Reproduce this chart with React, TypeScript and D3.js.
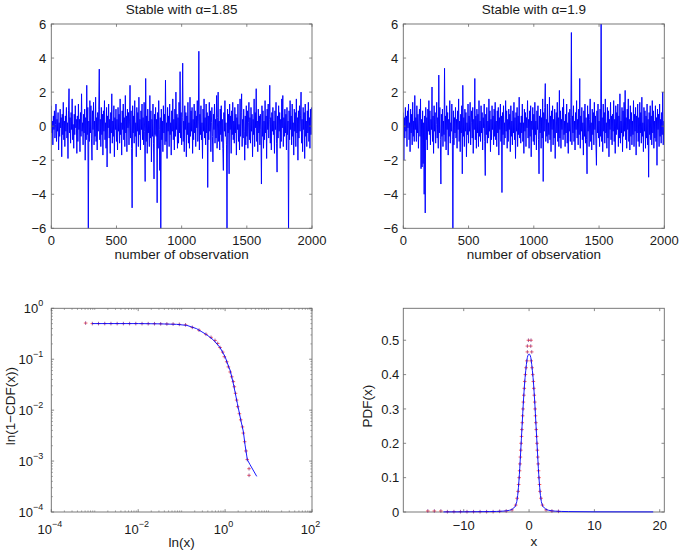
import React from 'react';
import * as d3 from 'd3';

const W = 681;
const H = 555;
const FONT = '"Liberation Sans", Arial, Helvetica, sans-serif';
const TEXT = '#1a1a1a';
const AXIS = '#6b6b6b';
const LINE = '#0000ff';
const MARK = '#ff1a1a';

// ---------- top panels: stable series ----------
const titles = ['Stable with α=1.85', 'Stable with α=1.9'];
const obsTicks = [0, 500, 1000, 1500, 2000];
const seriesTicks = [-6, -4, -2, 0, 2, 4, 6];
const obsStep = 4; // one stored value per 4 observations

const seriesA = [
  1.2,-0.4,0.3,-1.1,0.6,-0.2,0.9,-0.7,0.1,1.3,-0.9,0.4,-0.3,0.8,-1.4,0.2,-0.6,1.0,-0.1,0.5,-1.8,0.7,-0.5,1.4,-0.8,
  0.3,-1.2,0.6,-0.3,1.1,-0.7,0.2,-1.9,0.9,2.2,-0.4,0.5,-1.0,0.8,-0.2,1.6,-0.8,0.1,-1.3,0.7,-0.5,1.2,-0.1,0.4,-1.6,
  0.6,-0.9,1.3,-0.2,0.4,-1.5,0.8,-0.6,1.9,-0.3,0.2,-1.1,0.7,-0.4,1.0,-2.0,0.5,-0.8,2.4,-0.5,1.1,-6.5,0.3,-0.9,1.5,
  -0.4,1.2,-0.7,-2.0,0.9,-0.2,1.4,-1.1,0.3,-0.6,1.7,-0.9,0.5,-1.4,0.8,-0.3,1.0,3.35,-0.8,0.4,-1.2,1.1,-0.5,0.7,-1.7,
  0.9,-0.3,1.5,-0.8,0.2,-1.3,1.1,-2.4,0.6,-0.1,1.3,-0.7,0.4,-1.6,0.8,-0.4,1.9,-1.0,0.3,-0.6,1.2,-1.8,0.5,-0.2,1.0,
  -0.9,0.4,-1.4,1.1,-0.3,0.7,-1.0,1.6,-0.5,0.2,-1.7,0.9,-0.2,1.3,-0.8,0.5,-1.2,1.8,-0.4,0.6,-1.5,1.0,-0.1,0.8,-1.1,
  0.3,2.4,-0.7,0.9,-1.3,-4.8,1.2,-0.4,0.6,-1.0,1.5,-0.6,0.2,-1.8,1.1,-0.3,0.8,-1.2,1.7,-0.5,0.4,-1.4,0.9,-0.2,1.3,
  -0.8,0.5,-1.1,1.4,-0.3,-3.25,2.8,-0.9,0.6,-1.6,1.0,-0.4,0.3,-1.2,1.8,-0.7,0.9,-2.1,0.4,-0.6,1.3,-1.0,-3.1,0.7,-0.5,
  1.1,-0.6,0.4,-4.5,0.8,-1.3,1.5,-0.2,-2.6,0.5,-6.5,1.0,-0.8,0.3,-1.5,1.2,-0.4,0.7,-1.1,2.7,-0.9,0.2,-1.9,1.1,-0.3,
  0.6,-1.2,1.3,-0.5,0.2,-1.7,0.9,-0.3,1.6,-0.8,0.4,-1.4,1.0,-0.6,2.0,-0.2,0.7,-1.3,0.5,-1.0,1.4,-0.4,3.2,-0.7,0.8,
  -1.1,0.5,3.7,-0.9,0.3,-1.5,1.2,-0.2,0.8,-1.8,0.6,-0.5,1.4,-1.0,0.2,-1.3,1.7,-0.6,0.9,-0.3,1.1,-1.6,0.4,-0.8,1.3,
  -0.4,0.9,-1.2,0.6,-0.1,1.5,-0.9,0.3,4.4,-1.4,0.7,-0.5,1.2,-0.8,0.2,-1.9,1.0,-0.3,1.6,-0.7,0.5,-1.1,1.3,-0.4,0.8,
  -3.6,0.6,-0.8,1.4,-0.3,0.9,-1.5,0.2,1.1,-0.6,-2.1,0.7,-0.2,1.3,-1.0,0.4,-0.7,1.8,-1.3,0.5,2.0,-0.9,0.3,-1.4,1.0,
  -0.5,1.2,-0.9,0.4,-1.3,-2.6,0.8,-0.3,1.5,-0.6,0.2,-1.1,-6.5,1.0,-0.4,0.7,-2.8,1.3,-0.2,0.6,-1.6,0.9,-0.5,1.4,-0.8,
  0.3,-1.0,1.1,-0.4,0.7,-1.7,0.5,-0.2,1.3,-0.9,0.1,-1.4,1.6,-0.6,0.8,1.9,-1.2,0.4,-0.7,1.0,-0.3,-2.0,0.6,-1.1,1.2,
  -0.6,0.9,-1.3,0.2,1.4,-0.8,0.5,-1.0,1.1,-0.3,0.7,-1.8,0.4,-0.5,1.6,-1.2,0.8,-0.1,2.2,-0.9,0.3,-1.5,1.0,-0.4,0.6,
  -1.1,0.7,-0.2,-3.4,1.2,-0.6,0.9,-1.3,0.3,-0.8,1.5,-0.4,0.6,-1.9,1.0,-0.2,1.3,-0.7,0.4,2.4,-1.0,0.5,-1.4,0.8,-0.3,
  1.1,-0.5,0.3,-1.6,0.9,-0.2,1.4,-1.0,-2.7,0.6,-0.7,1.2,-0.3,0.8,-1.3,0.4,-0.9,1.6,-0.1,1.8,-1.2,0.5,-0.6,1.0,-0.4,
  0.7,-1.4,1.1,-0.5,0.3,-6.5,0.9,-0.8,1.5,-0.2,0.6,-1.1,1.3,-0.6,0.2,-1.7,1.0,-0.3,0.8,-1.2,1.6,-0.4,0.5,-2.0,0.9,
  -0.7,1.2,-0.3,0.6,2.0,-1.0,0.4,-1.5,1.1,-0.2,0.8,-1.9,1.3,-0.6,0.3,-1.2,0.9,-0.4,1.4,-0.9,0.5,-1.3,1.0,-0.5,1.1,
];

const seriesB = [
  0.8,-2.0,0.5,-0.7,1.1,-0.3,0.6,-1.2,0.9,-0.1,1.3,-0.8,0.2,-1.5,1.0,-0.4,0.7,-1.1,1.4,-0.6,0.3,-0.9,1.8,-0.2,0.5,
  -0.9,1.2,-0.4,0.7,-1.3,0.3,1.0,-0.6,1.6,-2.5,0.4,-2.4,0.9,-2.2,0.2,-4.0,0.6,-5.1,1.1,-0.8,0.5,-1.4,1.0,-0.3,1.5,
  -0.5,0.9,-1.1,0.4,-0.2,2.3,-0.9,0.6,-1.6,1.2,-0.3,0.8,-1.0,0.1,1.4,-0.7,0.5,-1.3,3.0,-0.4,1.1,-0.8,-3.4,0.7,-0.6,
  1.0,-1.2,0.3,-0.5,3.4,-0.9,0.6,-1.4,1.2,-0.2,0.8,-1.7,0.4,-0.6,1.5,-1.0,0.2,-0.3,1.3,-0.8,-6.5,0.9,-1.1,0.5,-0.4,
  1.1,-0.7,0.4,-1.3,0.9,-0.2,1.6,-0.9,0.3,-1.5,0.7,-0.4,1.2,-2.8,2.4,-0.6,0.5,-1.2,1.0,-0.3,0.8,-1.8,0.2,-0.5,1.3,
  -1.0,0.6,-0.3,1.4,-1.1,0.2,0.9,-0.7,1.1,-1.6,0.4,-0.2,2.8,-0.8,0.6,-1.3,1.0,-0.4,0.7,-1.2,1.5,-0.6,0.3,-0.9,1.2,
  -0.4,0.8,-1.4,0.5,-0.1,1.3,-0.9,-2.9,0.7,-0.5,1.1,-1.0,0.3,-0.7,1.6,-0.3,0.9,-1.5,0.4,-0.8,1.2,-0.2,0.6,-1.1,1.0,
  -0.6,1.4,-0.8,0.3,-1.2,0.9,-0.4,1.1,-1.7,0.5,-0.2,1.3,-0.9,0.6,-3.9,0.8,-0.5,1.2,-1.1,0.2,-0.7,1.5,-0.3,0.9,-1.3,
  0.4,-0.9,1.0,-0.2,0.7,-1.5,1.2,-0.6,0.3,-1.1,0.9,-0.4,1.4,-0.8,0.5,-1.9,0.8,-0.3,1.1,-1.2,0.6,-0.5,1.7,-0.7,0.2,
  -1.0,0.6,-0.4,1.3,-0.9,0.2,-1.6,1.0,-0.3,0.8,-1.2,0.5,-0.1,1.5,-0.7,0.4,-1.3,0.9,-0.6,1.2,-1.8,0.3,-0.2,1.1,-0.9,
  0.7,-1.1,1.4,-0.5,0.3,-1.4,0.9,-0.2,1.2,-0.8,-2.8,0.6,-0.4,1.0,-1.3,0.5,-0.7,1.6,-3.25,0.8,-0.3,1.1,2.5,-0.9,0.4,
  -0.6,1.3,-1.0,0.2,-0.5,1.7,-0.8,0.6,-1.5,0.9,-0.2,1.2,-1.1,0.4,-0.7,1.0,-1.9,0.3,0.8,-0.4,1.4,-0.9,0.5,-1.2,2.1,
  -0.7,0.9,-1.3,0.4,-0.2,1.1,-0.8,1.6,-0.5,0.3,-1.2,0.7,-0.4,1.3,-1.0,0.2,-1.6,0.8,-0.3,1.0,-0.9,0.5,5.5,-1.1,0.6,
  -0.4,1.2,-0.9,0.3,-1.4,0.8,-0.2,1.5,-0.7,0.4,-1.1,1.0,-0.5,2.8,-1.3,0.6,-0.3,1.1,-0.8,0.2,-1.7,0.9,-0.6,1.3,-1.0,
  0.5,-0.8,-2.8,1.2,-0.3,0.7,-1.2,0.4,1.6,-0.9,0.2,-1.4,1.0,-0.5,0.8,-1.1,1.4,-0.2,0.6,-1.0,-2.3,0.9,-0.4,1.3,-0.7,
  0.3,-1.2,1.0,-0.6,6.5,-0.9,0.5,-1.5,1.3,-0.3,0.8,-1.0,1.6,-0.4,0.2,-1.3,1.1,-0.7,0.9,-1.8,0.4,-0.2,1.4,-0.8,0.6,
  -1.1,0.7,-0.3,1.5,-0.9,0.4,-1.6,1.2,-0.5,0.8,-0.2,1.3,-1.2,0.6,-0.7,1.9,-1.0,0.3,-0.4,1.1,-1.5,0.9,-0.6,1.4,-0.3,
  2.1,-0.8,0.5,-1.3,1.0,-0.2,1.6,-0.9,0.4,-1.4,1.2,-0.6,0.8,-1.1,0.3,-0.5,1.5,-1.2,0.7,-0.3,1.1,-1.7,0.6,-0.4,1.3,
  -0.9,0.5,-1.2,1.4,-0.4,0.8,-1.0,1.7,-0.6,0.2,-1.5,1.1,-0.3,0.9,-1.3,0.6,-0.7,1.3,-1.1,0.4,-3.0,0.8,-0.5,1.2,-0.8,
  0.6,-1.1,1.5,-0.4,0.9,-1.3,0.3,-0.7,1.2,-0.9,0.5,-2.3,1.0,-0.2,0.7,-1.2,1.3,-0.6,0.4,-1.0,0.8,-0.5,2.0,-1.1,0.3,
];

// ---------- bottom-left: tail (1-CDF) on log-log ----------
const cdfLineX = [8.71e-4, 0.01, 0.0316, 0.0767, 0.132, 0.221, 0.378, 0.536, 0.764, 1.0, 1.189, 1.309, 1.549, 1.914, 2.291, 2.63, 2.877, 3.251, 3.75, 5.346];
const cdfLineY = [0.501, 0.501, 0.495, 0.484, 0.462, 0.398, 0.302, 0.24, 0.17, 0.112, 0.0741, 0.0603, 0.0331, 0.0136, 0.00646, 0.0038, 0.00209, 0.00106, 0.000851, 0.000501];
const cdfMarkX = [6.17e-4, 8.79e-4, 1.22e-3, 1.70e-3, 2.36e-3, 3.28e-3, 4.56e-3, 6.34e-3, 8.81e-3, 1.225e-2, 1.70e-2, 2.37e-2, 3.29e-2, 4.57e-2, 6.35e-2, 8.83e-2, 0.123, 0.176, 0.251, 0.363, 0.474, 0.586, 0.676, 0.764, 0.881, 0.962, 1.089, 1.189, 1.309, 1.422, 1.549, 1.633, 1.738, 1.841, 1.95, 2.138, 2.291, 2.512, 2.63, 2.818, 3.02, 3.236, 3.556, 3.556];
const cdfMarkY = [0.513, 0.501, 0.501, 0.501, 0.501, 0.501, 0.501, 0.501, 0.501, 0.5, 0.499, 0.498, 0.495, 0.493, 0.49, 0.484, 0.473, 0.422, 0.372, 0.309, 0.269, 0.234, 0.204, 0.17, 0.138, 0.112, 0.0891, 0.0708, 0.0562, 0.0452, 0.0363, 0.0288, 0.0214, 0.0158, 0.0117, 0.00851, 0.00646, 0.00468, 0.00355, 0.0024, 0.00158, 0.00107, 0.000708, 0.000525];
const cdfXTicks = [1e-4, 1e-2, 1e0, 1e2];
const cdfXExp = ['−4', '−2', '0', '2'];
const cdfYTicks = [1e-4, 1e-3, 1e-2, 1e-1, 1e0];
const cdfYExp = ['−4', '−3', '−2', '−1', '0'];

// ---------- bottom-right: PDF ----------
const pdfLineX = [-13.1, -10, -6, -4, -3, -2.5, -2.2, -1.94, -1.68, -1.48, -1.27, -1.07, -0.87, -0.66, -0.46, -0.26, 0, 0.26, 0.46, 0.66, 0.87, 1.07, 1.27, 1.48, 1.68, 1.94, 2.2, 2.5, 3, 4, 6, 10, 19];
const pdfLineY = [0.0003, 0.0005, 0.0012, 0.0025, 0.005, 0.009, 0.015, 0.025, 0.06, 0.11, 0.18, 0.25, 0.32, 0.38, 0.42, 0.45, 0.46, 0.45, 0.42, 0.38, 0.32, 0.25, 0.18, 0.11, 0.06, 0.025, 0.015, 0.009, 0.005, 0.0025, 0.0012, 0.0005, 0.0003];
const pdfMarkX = [
  -15.5, -14.5, -13.5, -12.5, -11.5, -10.5, -9.5, -8.5, -7.5, -6.5, -5.5, -4.5, -3.5, -2.6,
  -2.05, -1.83, -1.68, -1.6, -1.52, -1.45, -1.39, -1.33, -1.27, -1.213, -1.156, -1.099, -1.041, -0.984, -0.927, -0.87, -0.8, -0.73, -0.66, -0.56, -0.46, -0.327,
  0.327, 0.46, 0.56, 0.66, 0.73, 0.8, 0.87, 0.927, 0.984, 1.041, 1.099, 1.156, 1.213, 1.27, 1.33, 1.39, 1.45, 1.52, 1.6, 1.68, 1.83, 2.05,
  2.6, 3.5, 4.5,
  -0.1, 0.3, -0.26, 0.26, -0.26, 0.41,
];
const pdfMarkY = [
  0.003, 0.003, 0.003, 0.001, 0.001, 0.001, 0.001, 0.001, 0.001, 0.001, 0.001, 0.002, 0.003, 0.006,
  0.02, 0.04, 0.06, 0.08, 0.1, 0.12, 0.14, 0.16, 0.18, 0.2, 0.22, 0.24, 0.26, 0.28, 0.3, 0.32, 0.34, 0.36, 0.38, 0.4, 0.42, 0.44,
  0.44, 0.42, 0.4, 0.38, 0.36, 0.34, 0.32, 0.3, 0.28, 0.26, 0.24, 0.22, 0.2, 0.18, 0.16, 0.14, 0.12, 0.1, 0.08, 0.06, 0.04, 0.02,
  0.006, 0.003, 0.002,
  0.5, 0.5, 0.483, 0.483, 0.466, 0.466,
];
const pdfXTicks = [-10, 0, 10, 20];
const pdfYTicks = [0, 0.1, 0.2, 0.3, 0.4, 0.5];

// ---------- layout ----------
const COLS = [{ l: 51.3, r: 312 }, { l: 403.3, r: 664.3 }];
const ROWS = [{ t: 24, b: 228.3 }, { t: 308.3, b: 512 }];
const TICK = 2.8;

type Box = { l: number; r: number; t: number; b: number };

function Frame({ box, xt, yt, xMinor = [], yMinor = [] }: { box: Box; xt: number[]; yt: number[]; xMinor?: number[]; yMinor?: number[] }) {
  const p: string[] = [];
  xt.forEach((x) => { p.push(`M${x},${box.b}V${box.b - TICK}M${x},${box.t}V${box.t + TICK}`); });
  yt.forEach((y) => { p.push(`M${box.l},${y}H${box.l + TICK}M${box.r},${y}H${box.r - TICK}`); });
  const m: string[] = [];
  xMinor.forEach((x) => { m.push(`M${x},${box.b}V${box.b - 1.6}M${x},${box.t}V${box.t + 1.6}`); });
  yMinor.forEach((y) => { m.push(`M${box.l},${y}H${box.l + 1.6}M${box.r},${y}H${box.r - 1.6}`); });
  return (
    <g>
      <path d={m.join('')} stroke={AXIS} strokeWidth={0.6} fill="none" />
      <path d={p.join('')} stroke={AXIS} strokeWidth={0.8} fill="none" />
      <rect x={box.l} y={box.t} width={box.r - box.l} height={box.b - box.t} fill="none" stroke={AXIS} strokeWidth={0.9} />
    </g>
  );
}

function Plus({ x, y }: { x: number; y: number }) {
  const a = 1.8;
  return (
    <g>
      <path d={`M${x - a},${y}H${x + a}`} stroke={MARK} strokeWidth={0.7} />
      <path d={`M${x},${y - a}V${y + a}`} stroke="#7a1f7a" strokeWidth={0.7} />
    </g>
  );
}

function SeriesPanel({ idx, data }: { idx: number; data: number[] }) {
  const box = { ...COLS[idx], ...ROWS[0] };
  const x = d3.scaleLinear().domain([0, 2000]).range([box.l, box.r]);
  const y = d3.scaleLinear().domain([-6, 6]).range([box.b, box.t]);
  const path = d3.line<number>().x((_, i) => x(i * obsStep)).y((v) => y(v))(data) || '';
  const cx = (box.l + box.r) / 2;
  const clipId = `clip-top-${idx}`;
  return (
    <g>
      <clipPath id={clipId}><rect x={box.l} y={box.t} width={box.r - box.l} height={box.b - box.t} /></clipPath>
      <path d={path} clipPath={`url(#${clipId})`} fill="none" stroke={LINE} strokeWidth={0.95} strokeLinejoin="miter" />
      <Frame box={box} xt={obsTicks.map(x)} yt={seriesTicks.map(y)} />
      {obsTicks.map((t) => (
        <text key={t} x={x(t)} y={box.b + 17} textAnchor="middle" fontSize={13} fill={TEXT}>{t}</text>
      ))}
      {seriesTicks.map((t) => (
        <text key={t} x={box.l - 5} y={y(t) + 4.6} textAnchor="end" fontSize={13} fill={TEXT}>{t < 0 ? `−${-t}` : t}</text>
      ))}
      <text x={cx} y={13.5} textAnchor="middle" fontSize={13.5} fill={TEXT}>{titles[idx]}</text>
      <text x={cx} y={box.b + 30.5} textAnchor="middle" fontSize={13.5} fill={TEXT}>number of observation</text>
    </g>
  );
}

function CdfPanel() {
  const box = { ...COLS[0], ...ROWS[1] };
  const x = d3.scaleLog().domain([1e-4, 1e2]).range([box.l, box.r]);
  const y = d3.scaleLog().domain([1e-4, 1e0]).range([box.b, box.t]);
  const xMinor = x.ticks().filter((t) => !cdfXTicks.some((m) => Math.abs(m - t) / m < 1e-6));
  const yMinor = y.ticks().filter((t) => !cdfYTicks.some((m) => Math.abs(m - t) / m < 1e-6));
  const linePath = d3.line<number>().x((v) => x(v)).y((_, i) => y(cdfLineY[i]))(cdfLineX) || '';
  const cx = (box.l + box.r) / 2;
  return (
    <g>
      <Frame box={box} xt={cdfXTicks.map(x)} yt={cdfYTicks.map(y)} xMinor={xMinor.map(x)} yMinor={yMinor.map(y)} />
      {cdfMarkX.map((v, i) => <Plus key={i} x={x(v)} y={y(cdfMarkY[i])} />)}
      <path d={linePath} fill="none" stroke={LINE} strokeWidth={0.9} />
      {cdfXTicks.map((t, i) => (
        <text key={t} x={x(t) - 1.5} y={box.b + 22} textAnchor="middle" fontSize={13} fill={TEXT}>
          <tspan>10</tspan><tspan fontSize={9} dy={-7}>{cdfXExp[i]}</tspan>
        </text>
      ))}
      {cdfYTicks.map((t, i) => (
        <text key={t} x={box.l - 8} y={y(t) + 5} textAnchor="end" fontSize={13} fill={TEXT}>
          <tspan>10</tspan><tspan fontSize={9} dy={-7}>{cdfYExp[i]}</tspan>
        </text>
      ))}
      <text x={cx} y={546.5} textAnchor="middle" fontSize={13.5} fill={TEXT}>ln(x)</text>
      <text transform={`translate(15,${(box.t + box.b) / 2 - 4}) rotate(-90)`} textAnchor="middle" fontSize={13.5} fill={TEXT}>ln(1−CDF(x))</text>
    </g>
  );
}

function PdfPanel() {
  const box = { ...COLS[1], ...ROWS[1] };
  const x = d3.scaleLinear().domain([-19.25, 20.7]).range([box.l, box.r]);
  const y = d3.scaleLinear().domain([0, 0.593]).range([box.b, box.t]);
  const linePath = d3.line<number>().x((v) => x(v)).y((_, i) => y(pdfLineY[i])).curve(d3.curveMonotoneX)(pdfLineX) || '';
  const cx = (box.l + box.r) / 2;
  return (
    <g>
      <Frame box={box} xt={pdfXTicks.map(x)} yt={pdfYTicks.map(y)} />
      {pdfMarkX.map((v, i) => <Plus key={i} x={x(v)} y={y(pdfMarkY[i])} />)}
      <path d={linePath} fill="none" stroke={LINE} strokeWidth={0.9} />
      {pdfXTicks.map((t) => (
        <text key={t} x={x(t)} y={box.b + 17.5} textAnchor="middle" fontSize={13} fill={TEXT}>{t < 0 ? `−${-t}` : t}</text>
      ))}
      {pdfYTicks.map((t) => (
        <text key={t} x={box.l - 4} y={y(t) + 4.6} textAnchor="end" fontSize={13} fill={TEXT}>{t === 0 ? '0' : t.toFixed(1)}</text>
      ))}
      <text x={cx} y={545.5} textAnchor="middle" fontSize={13.5} fill={TEXT}>x</text>
      <text transform={`translate(372,${(box.t + box.b) / 2 - 4}) rotate(-90)`} textAnchor="middle" fontSize={13.5} fill={TEXT}>PDF(x)</text>
    </g>
  );
}

export default function App() {
  return (
    <svg width={W} height={H} viewBox={`0 0 ${W} ${H}`} style={{ position: 'absolute', left: 0, top: 0, background: '#fff', fontFamily: FONT }}>
      <rect width={W} height={H} fill="#fff" />
      <SeriesPanel idx={0} data={seriesA} />
      <SeriesPanel idx={1} data={seriesB} />
      <CdfPanel />
      <PdfPanel />
    </svg>
  );
}
